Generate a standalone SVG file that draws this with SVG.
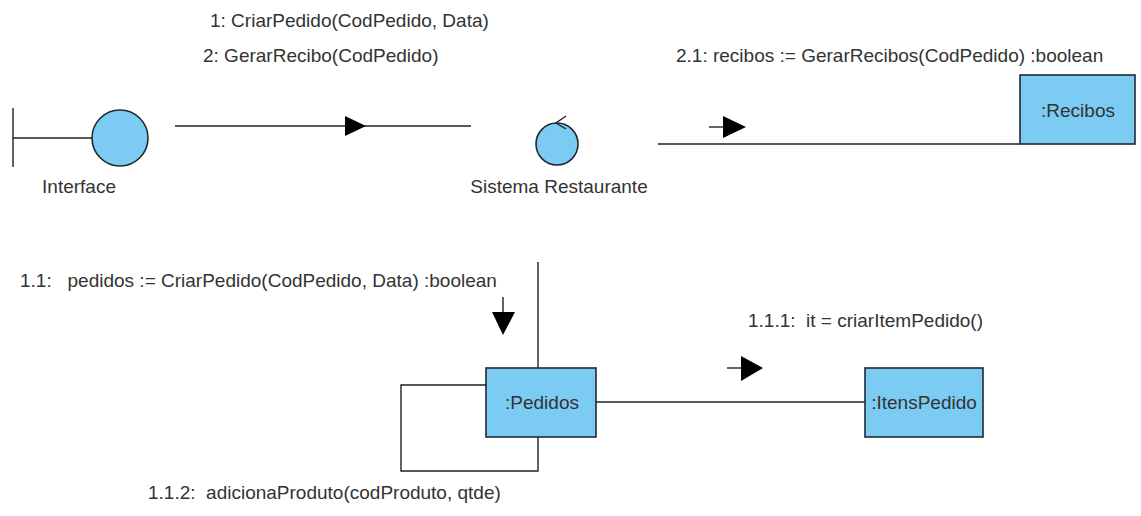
<svg xmlns="http://www.w3.org/2000/svg" width="1141" height="516" viewBox="0 0 1141 516">
<style>
text{font-family:"Liberation Sans",Arial,sans-serif;font-size:19px;fill:#333}
.ln{stroke:#222;stroke-width:1.4;fill:none}
.box{fill:#7ccbf2;stroke:#1e2a33;stroke-width:1.6}
.ah{fill:#000}
</style>
<rect width="1141" height="516" fill="#fff"/>
<g id="connectors">
<line class="ln" x1="175" y1="126" x2="471" y2="126"/>
<polygon class="ah" points="345,116 366,126 345,136"/>
<text x="210" y="27">1: CriarPedido(CodPedido, Data)</text>
<text x="203" y="62">2: GerarRecibo(CodPedido)</text>
<line class="ln" x1="658" y1="144" x2="1020" y2="144"/>
<line class="ln" x1="709" y1="127" x2="724" y2="127"/>
<polygon class="ah" points="723,116 746,127 723,138"/>
<text x="676" y="62">2.1: recibos := GerarRecibos(CodPedido) :boolean</text>
<line class="ln" x1="538" y1="262" x2="538" y2="368"/>
<line class="ln" x1="503" y1="297" x2="503" y2="313"/>
<polygon class="ah" points="492,312 503,335 515,312"/>
<text x="20" y="287" xml:space="preserve">1.1:   pedidos := CriarPedido(CodPedido, Data) :boolean</text>
<polyline class="ln" points="486,385 401,385 401,471 538,471 538,437"/>
<text x="148" y="499" xml:space="preserve">1.1.2:  adicionaProduto(codProduto, qtde)</text>
<line class="ln" x1="596" y1="402" x2="865" y2="402"/>
<line class="ln" x1="727" y1="368" x2="742" y2="368"/>
<polygon class="ah" points="741,356 763,368 741,381"/>
<text x="748" y="327" xml:space="preserve">1.1.1:  it = criarItemPedido()</text>
</g>
<g id="interface">
<line class="ln" x1="13" y1="108" x2="13" y2="167"/>
<line class="ln" x1="13" y1="138" x2="92" y2="138"/>
<circle cx="120" cy="138" r="28" class="box"/>
<text x="79" y="193" text-anchor="middle">Interface</text>
</g>
<g id="sistema">
<circle cx="557" cy="144" r="21" class="box"/>
<path d="M566 116 L556 123 L566 129" class="ln"/>
<text x="559" y="193" text-anchor="middle">Sistema Restaurante</text>
</g>
<g id="recibos">
<rect x="1020" y="75" width="115" height="69" class="box"/>
<text x="1078" y="117" text-anchor="middle">:Recibos</text>
</g>
<g id="pedidos">
<rect x="486" y="368" width="110" height="69" class="box"/>
<text x="542" y="409" text-anchor="middle">:Pedidos</text>
</g>
<g id="itenspedido">
<rect x="865" y="368" width="118" height="69" class="box"/>
<text x="924" y="409" text-anchor="middle">:ItensPedido</text>
</g>
</svg>
